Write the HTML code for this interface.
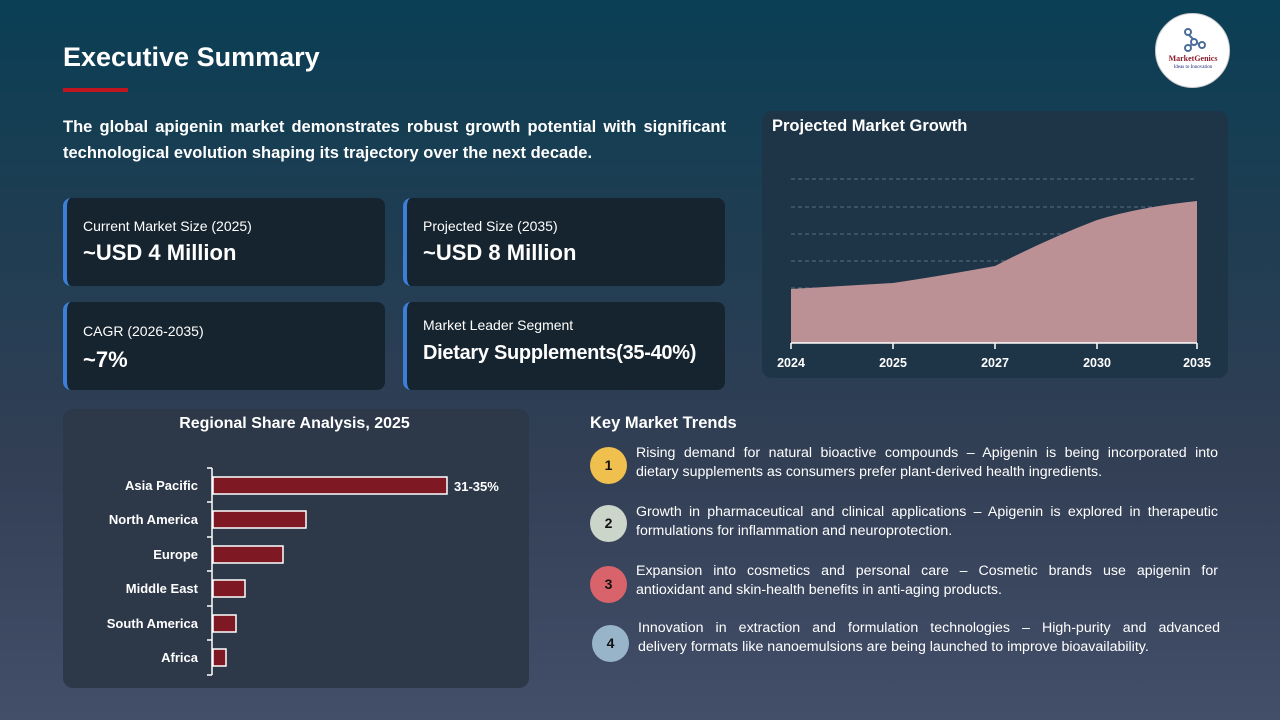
<!DOCTYPE html>
<html><head><meta charset="utf-8"><style>
*{margin:0;padding:0;box-sizing:border-box}
body{width:1280px;height:720px;overflow:hidden;font-family:"Liberation Sans",sans-serif;color:#fff;background:linear-gradient(180deg,#0a3f55 0%,#1e3d52 30%,#333f55 65%,#434f69 100%);position:relative}
.abs{position:absolute}
h1{position:absolute;left:63px;top:42px;font-size:27px;font-weight:bold}
.line{left:63px;top:88px;width:65px;height:4px;background:#c0141e}
.intro{left:63px;top:114px;width:663px;font-size:16.5px;font-weight:bold;line-height:26px;text-align:justify}
.card{position:absolute;width:322px;height:88px;background:#16242f;border-radius:8px;border-left:4px solid #3b7fd8}
.card .l{position:absolute;left:16px;top:20px;font-size:14px}
.card .v{position:absolute;left:16px;top:42px;font-size:22px;font-weight:bold;white-space:nowrap}
.panel{position:absolute;border-radius:10px}
.trend{position:absolute;left:636px;width:582px;font-size:14.2px;line-height:19px;white-space:nowrap}
.trend span{display:block}
.trend span:first-child{text-align:justify;text-align-last:justify}
.num{position:absolute;left:590px;width:37px;height:37px;border-radius:50%;color:#111;font-weight:bold;font-size:14px;text-align:center;line-height:37px}
</style></head><body>
<h1>Executive Summary</h1>
<div class="abs line"></div>
<div class="abs intro">The global apigenin market demonstrates robust growth potential with significant technological evolution shaping its trajectory over the next decade.</div>
<div class="abs" style="left:1155px;top:13px;width:75px;height:75px;border-radius:50%;background:#fff;border:1px solid #ccc">
<svg width="75" height="75"><g stroke="#4a6d9a" stroke-width="2" fill="none"><circle cx="32" cy="18" r="3"/><circle cx="38" cy="28" r="3"/><circle cx="46" cy="31" r="3"/><circle cx="32" cy="34" r="3"/><line x1="33" y1="21" x2="37" y2="25"/><line x1="41" y1="29" x2="43" y2="30"/><line x1="36" y1="30" x2="34" y2="32"/></g>
<text x="37" y="47" font-size="8" fill="#8b1a2a" text-anchor="middle" font-family="Liberation Serif" font-weight="bold">MarketGenics</text>
<text x="37" y="54" font-size="5" fill="#1a2a7a" text-anchor="middle" font-family="Liberation Serif">Ideas to Innovation</text></svg></div>

<div class="card" style="left:63px;top:198px"><div class="l">Current Market Size (2025)</div><div class="v">~USD 4 Million</div></div>
<div class="card" style="left:403px;top:198px"><div class="l">Projected Size (2035)</div><div class="v">~USD 8 Million</div></div>
<div class="card" style="left:63px;top:302px"><div class="l" style="top:21px">CAGR (2026-2035)</div><div class="v" style="top:45px">~7%</div></div>
<div class="card" style="left:403px;top:302px"><div class="l" style="top:15px">Market Leader Segment</div><div class="v" style="top:40px;font-size:20px;letter-spacing:-0.3px">Dietary Supplements(35-40%)</div></div>

<div class="panel" style="left:762px;top:111px;width:466px;height:267px;background:#1e3447"></div>
<div class="abs" style="left:772px;top:117px;font-size:16.5px;font-weight:bold">Projected Market Growth</div>
<svg class="abs" style="left:0;top:0" width="1280" height="720">
<g stroke="#5a6f82" stroke-dasharray="4,3" stroke-width="1"><line x1="791" y1="179" x2="1197" y2="179"/><line x1="791" y1="207" x2="1197" y2="207"/><line x1="791" y1="234" x2="1197" y2="234"/><line x1="791" y1="261" x2="1197" y2="261"/><line x1="791" y1="288" x2="1197" y2="288"/><line x1="791" y1="316" x2="1197" y2="316"/></g>
<path d="M791 289 L893 283 Q940 276 995 266 Q1045 240 1097 220 Q1140 207 1197 201 L1197 343 L791 343 Z" fill="#bb9195"/>
<g stroke="#fff" stroke-width="1.5"><line x1="791" y1="343" x2="1197" y2="343"/><line x1="791" y1="343" x2="791" y2="349"/><line x1="893" y1="343" x2="893" y2="349"/><line x1="995" y1="343" x2="995" y2="349"/><line x1="1097" y1="343" x2="1097" y2="349"/><line x1="1197" y1="343" x2="1197" y2="349"/></g>
<g fill="#fff" font-size="12.5" font-weight="bold" text-anchor="middle" font-family="Liberation Sans"><text x="791" y="367">2024</text><text x="893" y="367">2025</text><text x="995" y="367">2027</text><text x="1097" y="367">2030</text><text x="1197" y="367">2035</text></g>
</svg>

<div class="panel" style="left:63px;top:409px;width:466px;height:279px;background:#2d3849"></div>
<div class="abs" style="left:63px;top:415px;width:463px;text-align:center;font-size:16px;font-weight:bold">Regional Share Analysis, 2025</div>
<svg class="abs" style="left:0;top:0" width="1280" height="720">
<g stroke="#fff" stroke-width="1.5"><line x1="212" y1="468" x2="212" y2="675"/>
<line x1="207" y1="468" x2="212" y2="468"/><line x1="207" y1="502" x2="212" y2="502"/><line x1="207" y1="537" x2="212" y2="537"/><line x1="207" y1="571" x2="212" y2="571"/><line x1="207" y1="606" x2="212" y2="606"/><line x1="207" y1="640" x2="212" y2="640"/><line x1="207" y1="675" x2="212" y2="675"/></g>
<g fill="#7e1823" stroke="#fff" stroke-width="1.5">
<rect x="213" y="477" width="234" height="17"/><rect x="213" y="511" width="93" height="17"/><rect x="213" y="546" width="70" height="17"/><rect x="213" y="580" width="32" height="17"/><rect x="213" y="615" width="23" height="17"/><rect x="213" y="649" width="13" height="17"/></g>
<g fill="#fff" font-size="13" font-weight="bold" text-anchor="end" font-family="Liberation Sans">
<text x="198" y="490">Asia Pacific</text><text x="198" y="524">North America</text><text x="198" y="559">Europe</text><text x="198" y="593">Middle East</text><text x="198" y="628">South America</text><text x="198" y="662">Africa</text></g>
<text x="454" y="491" fill="#fff" font-size="13" font-weight="bold" font-family="Liberation Sans">31-35%</text>
</svg>

<div class="abs" style="left:590px;top:414px;font-size:16.5px;font-weight:bold">Key Market Trends</div>
<div class="num" style="top:447px;background:#f0c04e">1</div>
<div class="trend" style="top:444px"><span>Rising demand for natural bioactive compounds – Apigenin is being incorporated into</span><span>dietary supplements as consumers prefer plant-derived health ingredients.</span></div>
<div class="num" style="top:505px;background:#ccd5ca">2</div>
<div class="trend" style="top:503px"><span>Growth in pharmaceutical and clinical applications – Apigenin is explored in therapeutic</span><span>formulations for inflammation and neuroprotection.</span></div>
<div class="num" style="top:566px;background:#d9636a">3</div>
<div class="trend" style="top:562px"><span>Expansion into cosmetics and personal care – Cosmetic brands use apigenin for</span><span>antioxidant and skin-health benefits in anti-aging products.</span></div>
<div class="num" style="top:625px;left:592px;background:#98b4c9">4</div>
<div class="trend" style="top:619px;left:638px"><span>Innovation in extraction and formulation technologies – High-purity and advanced</span><span>delivery formats like nanoemulsions are being launched to improve bioavailability.</span></div>
</body></html>
